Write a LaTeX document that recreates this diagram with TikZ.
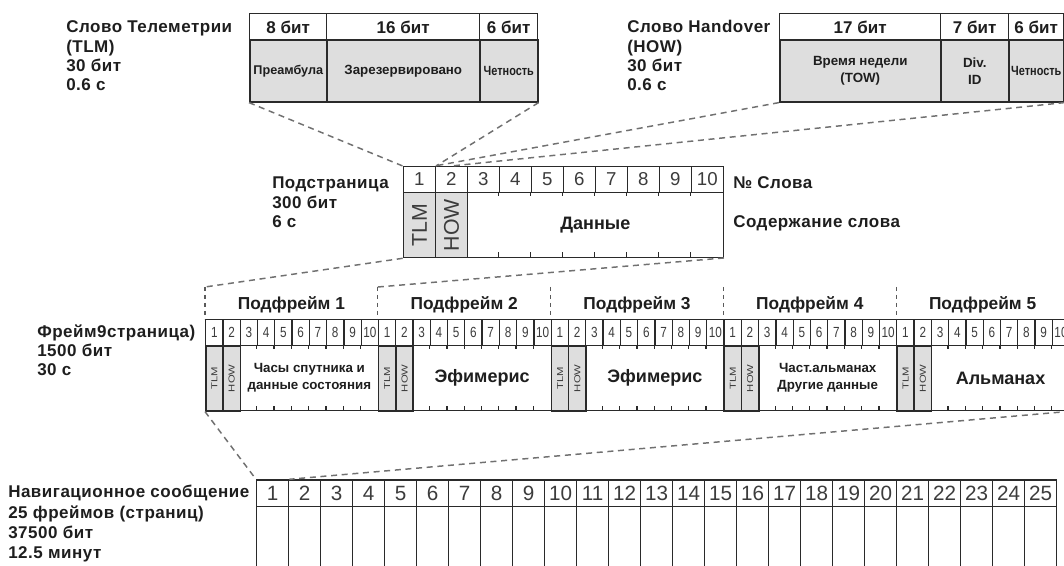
\documentclass[tikz,border=0pt]{standalone}
\usepackage{fontspec}
\setmainfont{Liberation Sans}
\newfontfamily\labfont[LetterSpace=3]{Liberation Sans}
\usepackage{graphicx}
\definecolor{ink}{HTML}{1E1E1E}
\definecolor{numc}{HTML}{3C3C3C}
\definecolor{cellgray}{HTML}{DEDEDE}
\definecolor{dashc}{HTML}{707070}
\definecolor{linec}{HTML}{2A2A2A}
\tikzset{
  lbl/.style={font=\labfont\fontsize{12.75}{15}\selectfont\bfseries, text=ink, anchor=base west, inner sep=0pt},
  cellbox/.style={draw=linec, line width=0.95pt, inner sep=0pt, anchor=north west, text=ink},
  hdr/.style={cellbox, fill=white, font=\fontsize{12.75}{15}\selectfont\bfseries},
  graycell/.style={cellbox, fill=cellgray, line width=1.2pt},
  wordtxt/.style={font=\fontsize{10}{12.5}\selectfont\bfseries, align=center},
  spnum/.style={cellbox, fill=white, font=\fontsize{14}{16}\selectfont, text=numc},
  fnum/.style={cellbox, fill=white, font=\fontsize{11}{13}\selectfont, text=numc},
  nvnum/.style={cellbox, fill=white, font=\fontsize{15.5}{17}\selectfont, text=numc},
  conn/.style={draw=dashc, line width=1.1pt, dash pattern=on 4.5pt off 3.5pt},
  sepline/.style={draw=dashc!80!black, line width=1pt, dash pattern=on 3pt off 3pt},
  tick/.style={draw=linec, line width=0.95pt},
}
\begin{document}
\begin{tikzpicture}[x=0.75pt,y=-0.75pt]
\useasboundingbox (0,0) rectangle (1064,566);
\fill[white] (0,0) rectangle (1064,566);

% ---------- TLM word ----------
\node[lbl] (tlmL1) at (66,33) {Слово Телеметрии};
\node[lbl] (tlmL2) at (66,52.5) {(TLM)};
\node[lbl] (tlmL3) at (66,72) {30 бит};
\node[lbl] (tlmL4) at (66,91) {0.6 с};
\node[hdr, minimum width=57.75pt, minimum height=19.875pt] (tlmH1) at (249,13) {8 бит};
\node[hdr, minimum width=114.75pt, minimum height=19.875pt] (tlmH2) at (326,13) {16 бит};
\node[hdr, minimum width=43.5pt, minimum height=19.875pt] (tlmH3) at (479,13) {6 бит};
\node[graycell, wordtxt, minimum width=57.75pt, minimum height=46.125pt, font=\fontsize{9.5}{12}\selectfont\bfseries] (tlmB1) at (249,39.5) {Преамбула};
\node[graycell, wordtxt, minimum width=114.75pt, minimum height=46.125pt] (tlmB2) at (326,39.5) {Зарезервировано};
\node[graycell, wordtxt, minimum width=43.5pt, minimum height=46.125pt] (tlmB3) at (479,39.5) {\scalebox{0.82}[1]{Четность}};

% ---------- HOW word ----------
\node[lbl] (howL1) at (627,33) {Слово Handover};
\node[lbl] (howL2) at (627,52.5) {(HOW)};
\node[lbl] (howL3) at (627,72) {30 бит};
\node[lbl] (howL4) at (627,91) {0.6 с};
\node[hdr, minimum width=120.75pt, minimum height=19.875pt] (howH1) at (779,13) {17 бит};
\node[hdr, minimum width=51pt, minimum height=19.875pt] (howH2) at (940,13) {7 бит};
\node[hdr, minimum width=41.25pt, minimum height=19.875pt] (howH3) at (1008,13) {6 бит};
\node[graycell, wordtxt, minimum width=120.75pt, minimum height=46.125pt] (howB1) at (779,39.5) {Время недели\\(TOW)};
\node[graycell, wordtxt, minimum width=51pt, minimum height=46.125pt] (howB2) at (940,39.5) {Div.\\ID};
\node[graycell, wordtxt, minimum width=41.25pt, minimum height=46.125pt] (howB3) at (1008,39.5) {\scalebox{0.82}[1]{Четность}};

% ---------- Subpage ----------
\node[lbl] (spL1) at (272,189) {Подстраница};
\node[lbl] (spL2) at (272,209) {300 бит};
\node[lbl] (spL3) at (272,228) {6 с};
\node[lbl] (spR1) at (733,189) {№ Слова};
\node[lbl] (spR2) at (733,228) {Содержание слова};
\foreach \i in {1,...,10} {
  \node[spnum, minimum width=24pt, minimum height=19.275pt] (spn\i) at ({402.7+32*(\i-1)},166) {\i};
}
\node[graycell, minimum width=24pt, minimum height=48.75pt, font=\fontsize{16}{18}\selectfont, text=numc] (spT) at (402.7,191.7) {\rotatebox{90}{TLM}};
\node[graycell, minimum width=24pt, minimum height=48.75pt, font=\fontsize{16}{18}\selectfont, text=numc] (spH) at (434.7,191.7) {\rotatebox{90}{HOW}};
\node[cellbox, minimum width=192pt, minimum height=48.75pt, font=\fontsize{13.5}{16}\selectfont\bfseries] (spD) at (466.7,191.7) {Данные};
\foreach \k in {4,...,10} {
  \draw[tick] ({402.7+32*(\k-1)},191.7) -- ++(0,4.5);
  \draw[tick] ({402.7+32*(\k-1)},256.7) -- ++(0,-4.5);
}

% ---------- Frame ----------
\node[lbl] (frL1) at (37,338) {Фрейм9страница)};
\node[lbl] (frL2) at (37,357) {1500 бит};
\node[lbl] (frL3) at (37,376) {30 с};
\foreach \s/\n/\ctext/\fs in {0/1/{Часы спутника и\\данные состояния}/10, 1/2/Эфимерис/13.5, 2/3/Эфимерис/13.5, 3/4/{Част.альманах\\Другие данные}/10, 4/5/Альманах/13.5} {
  \pgfmathsetmacro\fl{205+172.8*\s}
  \coordinate (fc\s) at (\fl,287);
  \node[font=\fontsize{13}{15}\selectfont\bfseries, text=ink] (sfl\s) at ({\fl+86.4},305) {Подфрейм \n};
  \foreach \k in {1,...,10} {
    \node[fnum, minimum width=12.96pt, minimum height=19.5pt] (fn\s-\k) at ({\fl+17.28*(\k-1)},319) {\scalebox{0.8}[1]{\k}};
  }
  \node[graycell, minimum width=12.96pt, minimum height=48.75pt, font=\fontsize{6.5}{8}\selectfont, text=numc] (fT\s) at (\fl,345) {\rotatebox{90}{\scalebox{1.3}[1]{TLM}}};
  \node[graycell, minimum width=12.96pt, minimum height=48.75pt, font=\fontsize{6.5}{8}\selectfont, text=numc] (fH\s) at ({\fl+17.28},345) {\rotatebox{90}{\scalebox{1.3}[1]{HOW}}};
  \node[cellbox, minimum width=103.68pt, minimum height=48.75pt, align=center, font=\fontsize{\fs}{12.75}\selectfont\bfseries] (fD\s) at ({\fl+34.56},345) {\ctext};
  \foreach \k in {4,...,10} {
    \draw[tick] ({\fl+17.28*(\k-1)},345) -- ++(0,4);
    \draw[tick] ({\fl+17.28*(\k-1)},410) -- ++(0,-4);
  }
  \draw[sepline] (fc\s) -- (fn\s-1.north west);
}

% ---------- Navigation message ----------
\node[lbl] (nvL1) at (8,498) {Навигационное сообщение};
\node[lbl] (nvL2) at (8,518) {25 фреймов (страниц)};
\node[lbl] (nvL3) at (8,538) {37500 бит};
\node[lbl] (nvL4) at (8,558) {12.5 минут};
\foreach \k in {1,...,25} {
  \node[nvnum, minimum width=24pt, minimum height=20pt] (nv\k) at ({256+32*(\k-1)},479.3) {\k};
  \node[cellbox, minimum width=24pt, minimum height=60pt] (nb\k) at ({256+32*(\k-1)},506) {};
}

% ---------- Dashed connectors ----------
\draw[conn] (tlmB1.south west) -- (spn1.north west);
\draw[conn] (tlmB3.south east) -- (spn1.north east);
\draw[conn] (howB1.south west) -- (spn2.north west);
\draw[conn] (howB3.south east) -- (spn2.north);
\draw[conn] (spT.south west) -- (fc0);
\draw[conn] (spD.south east) -- (fc1);
\draw[conn] (fT0.south west) -- (nv1.north west);
\draw[conn] (fD4.south east) -- (nv1.north east);
\end{tikzpicture}
\end{document}
